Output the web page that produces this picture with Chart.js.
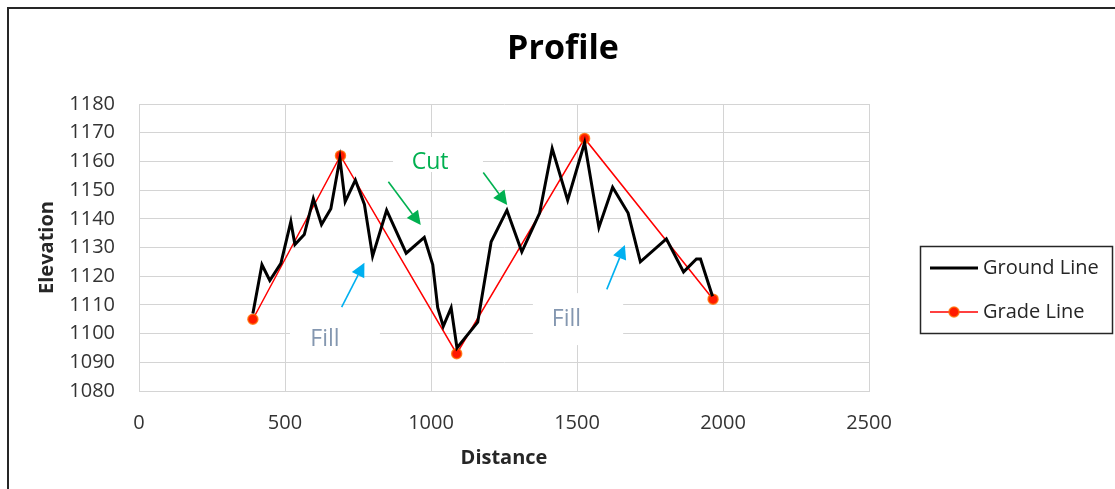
<!DOCTYPE html>
<html>
<head>
<meta charset="utf-8">
<script src="https://cdn.jsdelivr.net/npm/chart.js@4.4.1/dist/chart.umd.min.js"></script>
<style>
  html, body { margin: 0; padding: 0; background: #ffffff; }
  #wrap { position: relative; width: 1115px; height: 489px; }
  canvas { display: block; }
</style>
</head>
<body>
<div id="wrap"><canvas id="c" width="1115" height="489"></canvas></div>
<script>
// ---- Data ----
const groundDistance = [390, 421, 448, 486, 520, 534, 566, 597, 625, 657, 688, 706, 741, 772, 800, 848, 915, 977, 1006, 1023, 1042, 1069, 1089, 1160, 1206, 1260, 1311, 1372, 1415, 1468, 1526, 1575, 1622, 1675, 1717, 1806, 1865, 1909, 1923, 1964];
const groundElevation = [1107, 1124, 1118.5, 1124.5, 1139, 1131, 1134.5, 1147, 1138, 1143.5, 1161, 1146, 1153.5, 1145, 1127, 1143, 1128, 1133.5, 1124, 1109, 1102.5, 1109, 1095, 1104, 1132, 1143, 1128.5, 1142, 1164.5, 1146.5, 1166.5, 1137, 1151, 1142, 1125, 1133, 1121.5, 1126, 1126, 1113];
const gradeDistance = [390, 690, 1088, 1526, 1966];
const gradeElevation = [1105, 1162, 1093, 1168, 1112];

const seriesNames = ['Ground Line', 'Grade Line'];
const chartTitle = 'Profile';
const xAxisTitle = 'Distance';
const yAxisTitle = 'Elevation';
const xTickMin = 0, xTickMax = 2500, xTickStep = 500;
const yTickMin = 1080, yTickMax = 1180, yTickStep = 10;

// Annotation labels (data coordinates)
const labelTexts = ['Cut', 'Fill', 'Fill'];
const labelX = [997, 637, 1464];
const labelY = [1159.6, 1097.8, 1105.1];
const labelColors = ['#00b050', '#8497b0', '#8497b0'];
const labelBoxX0 = [870, 517, 1349];
const labelBoxX1 = [1178, 825, 1658];
const labelBoxY0 = [1168.5, 1108.2, 1114.1];
const labelBoxY1 = [1156.3, 1090.8, 1096];
// Arrows (data coordinates): from -> to
const arrowFromX = [854, 1179, 694, 1602];
const arrowFromY = [1152.9, 1156.1, 1109.2, 1115.4];
const arrowToX = [965, 1261, 772, 1664];
const arrowToY = [1137.8, 1144.8, 1124.7, 1130.9];
const arrowColors = ['#00b050', '#00b050', '#00b0f0', '#00b0f0'];

const FONT = "'Open Sans', 'DejaVu Sans', sans-serif";
const ground = groundDistance.map((x, i) => ({ x, y: groundElevation[i] }));
const grade = gradeDistance.map((x, i) => ({ x, y: gradeElevation[i] }));

const decor = {
  id: 'decor',
  beforeDraw(chart) {
    const ctx = chart.ctx;
    ctx.save();
    ctx.fillStyle = '#ffffff';
    ctx.fillRect(0, 0, chart.width, chart.height);
    ctx.strokeStyle = '#262626';
    ctx.lineWidth = 2;
    ctx.beginPath();
    ctx.moveTo(8, chart.height + 2);
    ctx.lineTo(8, 8);
    ctx.lineTo(chart.width + 2, 8);
    ctx.stroke();
    // title
    ctx.fillStyle = '#000000';
    ctx.font = "bold 34px " + FONT;
    ctx.textAlign = 'center';
    ctx.textBaseline = 'middle';
    ctx.fillText(chartTitle, 563, 49);
    ctx.restore();
  },
  beforeDatasetsDraw(chart) {
    const ctx = chart.ctx, xs = chart.scales.x, ys = chart.scales.y;
    ctx.save();
    ctx.fillStyle = '#ffffff';
    for (let i = 0; i < labelTexts.length; i++) {
      const x0 = xs.getPixelForValue(labelBoxX0[i]);
      const x1 = xs.getPixelForValue(labelBoxX1[i]);
      const y0 = ys.getPixelForValue(labelBoxY0[i]);
      const y1 = ys.getPixelForValue(labelBoxY1[i]);
      ctx.fillRect(x0, y0, x1 - x0, y1 - y0);
    }
    ctx.restore();
  },
  afterDatasetsDraw(chart) {
    const ctx = chart.ctx, xs = chart.scales.x, ys = chart.scales.y;
    ctx.save();
    ctx.textAlign = 'center';
    ctx.textBaseline = 'middle';
    ctx.font = "23px " + FONT;
    for (let i = 0; i < labelTexts.length; i++) {
      ctx.fillStyle = labelColors[i];
      ctx.fillText(labelTexts[i], xs.getPixelForValue(labelX[i]), ys.getPixelForValue(labelY[i]));
    }
    for (let i = 0; i < arrowFromX.length; i++) {
      const ax = xs.getPixelForValue(arrowFromX[i]), ay = ys.getPixelForValue(arrowFromY[i]);
      const bx = xs.getPixelForValue(arrowToX[i]), by = ys.getPixelForValue(arrowToY[i]);
      const ang = Math.atan2(by - ay, bx - ax);
      const len = 14, hw = 7;
      const hx = bx - len * Math.cos(ang), hy = by - len * Math.sin(ang);
      ctx.strokeStyle = arrowColors[i];
      ctx.fillStyle = arrowColors[i];
      ctx.lineWidth = 1.6;
      ctx.beginPath();
      ctx.moveTo(ax, ay);
      ctx.lineTo(hx, hy);
      ctx.stroke();
      ctx.beginPath();
      ctx.moveTo(bx, by);
      ctx.lineTo(hx + hw * Math.sin(ang), hy - hw * Math.cos(ang));
      ctx.lineTo(hx - hw * Math.sin(ang), hy + hw * Math.cos(ang));
      ctx.closePath();
      ctx.fill();
    }
    ctx.restore();
  },
  afterDraw(chart) {
    const ctx = chart.ctx;
    ctx.save();
    // legend box
    ctx.strokeStyle = '#262626';
    ctx.lineWidth = 1.5;
    ctx.strokeRect(920.5, 246.5, 192, 87);
    const rows = [268, 312];
    chart.data.datasets.forEach((ds, i) => {
      const y = rows[i];
      ctx.strokeStyle = ds.borderColor;
      ctx.lineWidth = ds.borderWidth;
      ctx.beginPath();
      ctx.moveTo(930, y);
      ctx.lineTo(978, y);
      ctx.stroke();
      if (ds.pointRadius > 0) {
        ctx.beginPath();
        ctx.arc(954, y, ds.pointRadius, 0, Math.PI * 2);
        ctx.fillStyle = ds.pointBackgroundColor;
        ctx.fill();
        ctx.strokeStyle = ds.pointBorderColor;
        ctx.lineWidth = ds.pointBorderWidth;
        ctx.stroke();
      }
      ctx.fillStyle = '#262626';
      ctx.font = "20px " + FONT;
      ctx.textAlign = 'left';
      ctx.textBaseline = 'middle';
      ctx.fillText(ds.label, 983, y);
    });
    ctx.restore();
  }
};

new Chart(document.getElementById('c'), {
  type: 'line',
  data: {
    datasets: [
      {
        label: seriesNames[0],
        data: ground,
        borderColor: '#000000',
        borderWidth: 3,
        pointRadius: 0,
        tension: 0,
        fill: false
      },
      {
        label: seriesNames[1],
        data: grade,
        borderColor: '#ff0000',
        borderWidth: 1.5,
        pointRadius: 5,
        pointBackgroundColor: '#ff1a00',
        pointBorderColor: 'rgba(255,110,0,0.8)',
        pointBorderWidth: 1.5,
        tension: 0,
        fill: false
      }
    ]
  },
  options: {
    responsive: false,
    animation: false,
    devicePixelRatio: 1,
    layout: { padding: { left: 0, top: 104, right: 246, bottom: 0 } },
    plugins: {
      legend: { display: false },
      title: { display: false },
      tooltip: { enabled: false }
    },
    scales: {
      x: {
        type: 'linear',
        min: xTickMin, max: xTickMax,
        ticks: { stepSize: xTickStep, padding: 20, color: '#333333', font: { family: FONT, size: 20 }, callback: v => String(v) },
        grid: { color: '#d4d4d4', lineWidth: 1, drawTicks: false },
        border: { color: '#d4d4d4' },
        title: { display: true, text: xAxisTitle, color: '#262626', font: { family: FONT, size: 20, weight: 'bold' }, padding: { top: 0, bottom: 19 } },
        afterFit(scale) { scale.height = 98; }
      },
      y: {
        type: 'linear',
        min: yTickMin, max: yTickMax,
        ticks: { stepSize: yTickStep, padding: 24, color: '#333333', font: { family: FONT, size: 20 }, callback: v => String(v) },
        grid: { color: '#d4d4d4', lineWidth: 1, drawTicks: false },
        border: { color: '#d4d4d4' },
        title: { display: true, text: yAxisTitle, color: '#262626', font: { family: FONT, size: 20, weight: 'bold' }, padding: { top: 35, bottom: 0 } },
        afterFit(scale) { scale.width = 139; }
      }
    }
  },
  plugins: [decor]
});
</script>
</body>
</html>
